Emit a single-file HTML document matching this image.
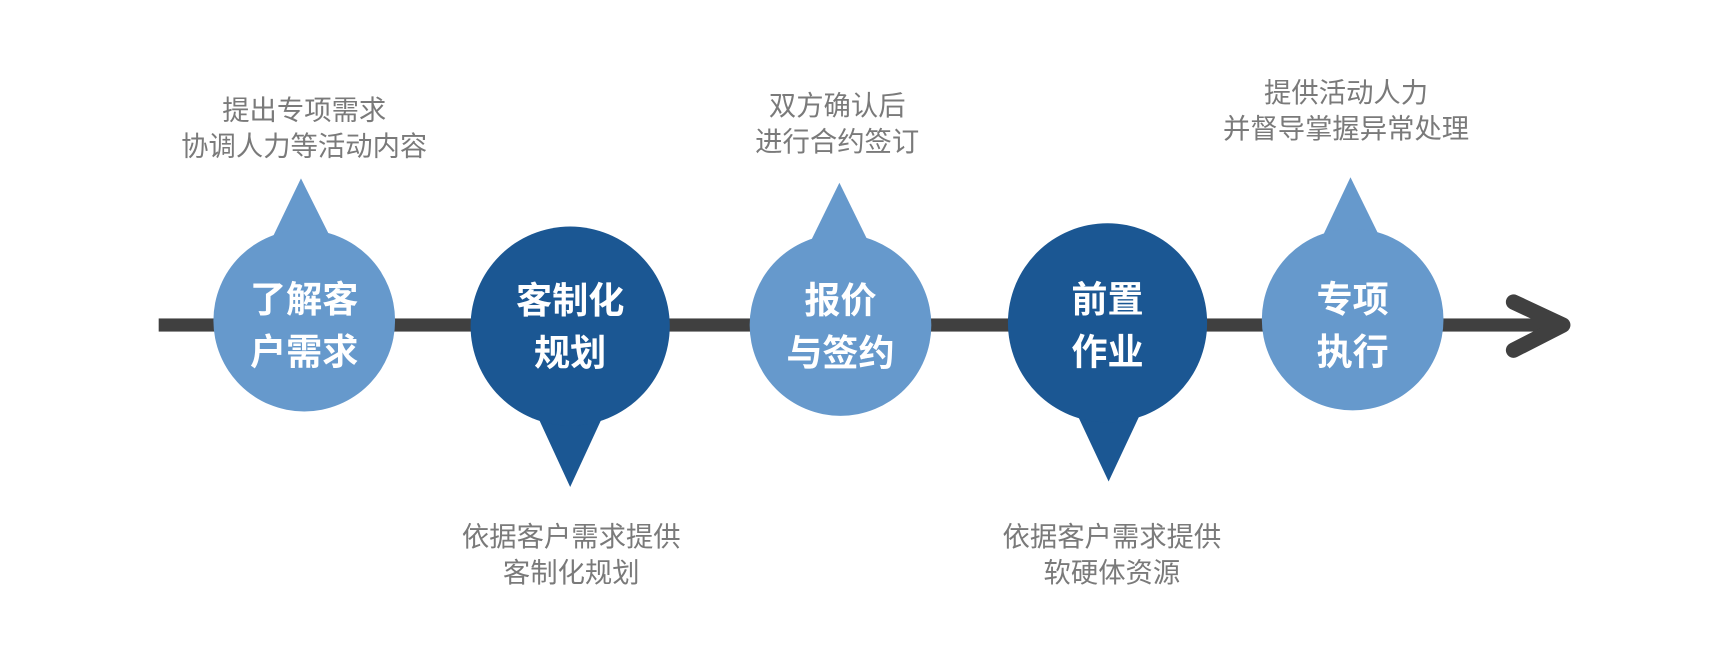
<!DOCTYPE html>
<html><head><meta charset="utf-8"><style>
html,body{margin:0;padding:0;background:#fff;}
svg{display:block}
text{font-family:"Liberation Sans","Noto Sans CJK SC",sans-serif;}
.c{fill:#7a7a7a;font-size:25px;text-anchor:middle}
.w{fill:#fff;font-size:33px;font-weight:bold;text-anchor:middle}
</style></head><body>
<svg width="1716" height="667" viewBox="0 0 1568 609.5" preserveAspectRatio="none" xmlns="http://www.w3.org/2000/svg">
<rect x="145" y="291" width="1280" height="12" fill="#404040"/>
<polyline points="1383,276 1428,297 1383,320" fill="none" stroke="#404040" stroke-width="14" stroke-linecap="round" stroke-linejoin="round"/>
<!-- 1 -->
<polygon points="275,163 249,217 302,217" fill="#6699cc"/>
<circle cx="278" cy="293" r="83" fill="#6699cc"/>
<text class="w" x="278" y="285">了解客</text><text class="w" x="278" y="333">户需求</text>
<text class="c" x="278" y="109">提出专项需求</text><text class="c" x="278" y="142">协调人力等活动内容</text>
<!-- 2 -->
<polygon points="521,445 491,380 551,380" fill="#1b5793"/>
<circle cx="521" cy="298" r="91" fill="#1b5793"/>
<text class="w" x="521" y="286">客制化</text><text class="w" x="521" y="334">规划</text>
<text class="c" x="522" y="499">依据客户需求提供</text><text class="c" x="522" y="532">客制化规划</text>
<!-- 3 -->
<polygon points="767,167 740,222 794,222" fill="#6699cc"/>
<circle cx="768" cy="297" r="83" fill="#6699cc"/>
<text class="w" x="768" y="286">报价</text><text class="w" x="768" y="334">与签约</text>
<text class="c" x="765" y="105">双方确认后</text><text class="c" x="765" y="138">进行合约签订</text>
<!-- 4 -->
<polygon points="1013,440 983,376 1043,376" fill="#1b5793"/>
<circle cx="1012" cy="295" r="91" fill="#1b5793"/>
<text class="w" x="1012" y="285">前置</text><text class="w" x="1012" y="333">作业</text>
<text class="c" x="1016" y="499">依据客户需求提供</text><text class="c" x="1016" y="532">软硬体资源</text>
<!-- 5 -->
<polygon points="1234,162 1208,217 1261,217" fill="#6699cc"/>
<circle cx="1236" cy="292" r="83" fill="#6699cc"/>
<text class="w" x="1236" y="285">专项</text><text class="w" x="1236" y="333">执行</text>
<text class="c" x="1230" y="93">提供活动人力</text><text class="c" x="1230" y="126">并督导掌握异常处理</text>
</svg>
</body></html>
